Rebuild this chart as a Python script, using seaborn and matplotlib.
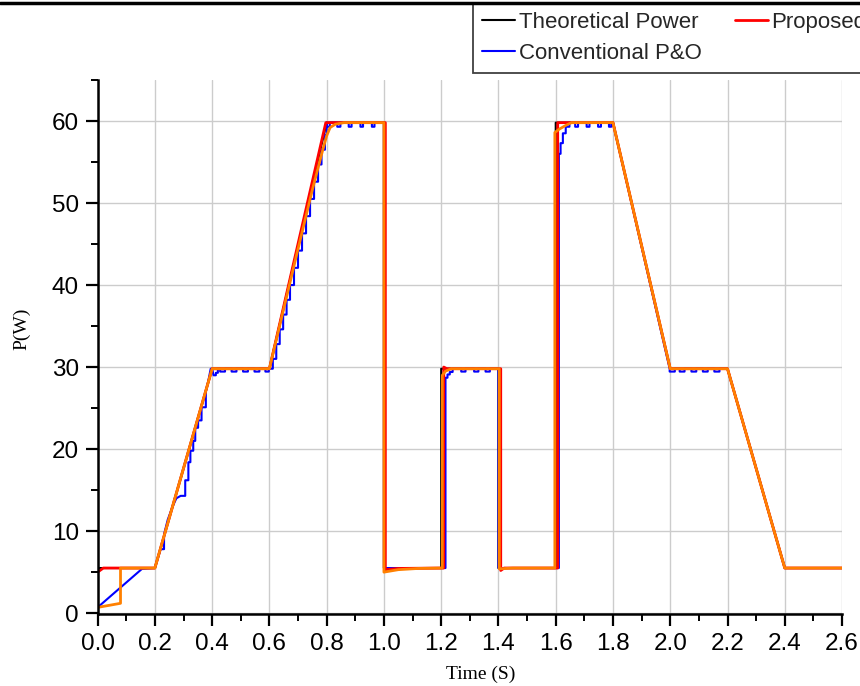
import matplotlib
matplotlib.use("Agg")
import matplotlib.pyplot as plt
import seaborn as sns
from matplotlib.ticker import MultipleLocator
from matplotlib.lines import Line2D

# ---------------- data ----------------
theo_t = [0.0, 0.2, 0.4, 0.6, 0.8, 1.0, 1.0, 1.2, 1.2, 1.4, 1.4, 1.6, 1.6, 1.8, 2.0, 2.2, 2.4, 2.6]
theo_p = [5.5, 5.5, 29.8, 29.8, 59.8, 59.8, 5.5, 5.5, 29.8, 29.8, 5.5, 5.5, 59.8, 59.8, 29.8, 29.8, 5.5, 5.5]

prop_t = [0.0, 0.02, 0.2, 0.4, 0.6, 0.797, 1.005, 1.005, 1.05, 1.2, 1.209, 1.209, 1.22, 1.408, 1.408,
          1.42, 1.607, 1.607, 1.8, 2.0, 2.2, 2.4, 2.6]
prop_p = [5.0, 5.5, 5.5, 29.8, 29.8, 59.8, 59.8, 5.3, 5.45, 5.5, 5.5, 30.0, 29.8, 29.8, 5.2,
          5.5, 5.5, 59.8, 59.8, 29.8, 29.8, 5.5, 5.5]

# conventional P&O as (time, power) points
po_pts = [
    (0.0, 0.7), (0.155, 5.4), (0.2, 5.5), (0.22, 7.8), (0.232, 7.8), (0.232, 9.6), (0.245, 11.4),
    (0.262, 13.0), (0.275, 14.0), (0.29, 14.3), (0.306, 14.3), (0.306, 16.2), (0.317, 16.2),
    (0.317, 18.4), (0.324, 18.4), (0.324, 19.8), (0.334, 19.8), (0.334, 21.0), (0.341, 21.0),
    (0.341, 22.6), (0.351, 22.6), (0.351, 23.5), (0.363, 23.5), (0.363, 25.1), (0.378, 25.1),
    (0.378, 27.0), (0.386, 28.2), (0.395, 29.8), (0.4, 29.8), (0.405, 29.0), (0.413, 29.0),
    (0.413, 29.3), (0.42, 29.3), (0.42, 29.8),
    (0.428, 29.8), (0.428, 29.45), (0.445, 29.45), (0.445, 29.8),
    (0.468, 29.8), (0.468, 29.45), (0.485, 29.45), (0.485, 29.8),
    (0.508, 29.8), (0.508, 29.45), (0.525, 29.45), (0.525, 29.8),
    (0.548, 29.8), (0.548, 29.45), (0.565, 29.45), (0.565, 29.8),
    (0.586, 29.8), (0.586, 29.45), (0.598, 29.45), (0.598, 29.8), (0.6, 29.8),
    (0.612, 29.8), (0.612, 31.0), (0.624, 31.0), (0.624, 32.8), (0.636, 32.8), (0.636, 34.6),
    (0.648, 34.6), (0.648, 36.4), (0.66, 36.4), (0.66, 38.2), (0.672, 38.2), (0.672, 40.0),
    (0.686, 40.0), (0.686, 42.1), (0.70, 42.1), (0.70, 44.2), (0.714, 44.2), (0.714, 46.3),
    (0.728, 46.3), (0.728, 48.4), (0.742, 48.4), (0.742, 50.5), (0.756, 50.5), (0.756, 52.6),
    (0.77, 52.6), (0.77, 54.7), (0.782, 54.7), (0.782, 56.5), (0.794, 56.5), (0.794, 58.3),
    (0.8, 58.3), (0.8, 59.8),
    (0.8, 59.3), (0.811, 59.3), (0.811, 59.8),
    (0.837, 59.8), (0.837, 59.3), (0.848, 59.3), (0.848, 59.8),
    (0.877, 59.8), (0.877, 59.3), (0.887, 59.3), (0.887, 59.8),
    (0.918, 59.8), (0.918, 59.3), (0.927, 59.3), (0.927, 59.8),
    (0.958, 59.8), (0.958, 59.3), (0.967, 59.3), (0.967, 59.8),
    (1.0, 59.8), (1.0, 5.5), (1.2, 5.5),
    (1.215, 5.5), (1.215, 28.7), (1.222, 28.7), (1.222, 29.1), (1.23, 29.1), (1.23, 29.4),
    (1.24, 29.4), (1.24, 29.8),
    (1.27, 29.8), (1.27, 29.45), (1.285, 29.45), (1.285, 29.8),
    (1.315, 29.8), (1.315, 29.45), (1.33, 29.45), (1.33, 29.8),
    (1.355, 29.8), (1.355, 29.45), (1.37, 29.45), (1.37, 29.8),
    (1.4, 29.8), (1.4, 5.5),
    (1.611, 5.5), (1.611, 56.0), (1.617, 56.0), (1.617, 57.3), (1.625, 57.3), (1.625, 58.5),
    (1.635, 58.5), (1.635, 59.3), (1.648, 59.3), (1.648, 59.8),
    (1.668, 59.8), (1.668, 59.3), (1.678, 59.3), (1.678, 59.8),
    (1.708, 59.8), (1.708, 59.3), (1.718, 59.3), (1.718, 59.8),
    (1.748, 59.8), (1.748, 59.3), (1.758, 59.3), (1.758, 59.8),
    (1.786, 59.8), (1.786, 59.3), (1.794, 59.3), (1.794, 59.8), (1.8, 59.8),
    (1.998, 29.8), (1.998, 29.45), (2.016, 29.45), (2.016, 29.8),
    (2.033, 29.8), (2.033, 29.45), (2.05, 29.45), (2.05, 29.8),
    (2.074, 29.8), (2.074, 29.45), (2.091, 29.45), (2.091, 29.8),
    (2.114, 29.8), (2.114, 29.45), (2.131, 29.45), (2.131, 29.8),
    (2.154, 29.8), (2.154, 29.45), (2.172, 29.45), (2.172, 29.8),
    (2.2, 29.8), (2.4, 5.5), (2.6, 5.5),
]
po_t = [p[0] for p in po_pts]
po_p = [p[1] for p in po_pts]

alt_t = [0.0, 0.08, 0.08, 0.2, 0.4, 0.6, 0.7, 0.75, 0.785, 0.8, 0.812, 0.83, 0.86, 1.0, 1.0,
         1.05, 1.12, 1.204, 1.204, 1.215, 1.235, 1.403, 1.403, 1.45, 1.597, 1.597, 1.612, 1.637,
         1.655, 1.8, 2.0, 2.2, 2.4, 2.6]
alt_p = [0.7, 1.2, 5.5, 5.5, 29.8, 29.8, 44.4, 51.6, 56.3, 58.2, 59.2, 59.6, 59.8, 59.8, 5.0,
         5.3, 5.45, 5.5, 29.0, 29.5, 29.8, 29.8, 5.4, 5.5, 5.5, 58.6, 59.0, 59.5,
         59.8, 59.8, 29.8, 29.8, 5.5, 5.5]

x_ticks = [0.0, 0.2, 0.4, 0.6, 0.8, 1.0, 1.2, 1.4, 1.6, 1.8, 2.0, 2.2, 2.4, 2.6]
y_ticks = [0, 10, 20, 30, 40, 50, 60]
labels = ["Theoretical Power", "Conventional P&O", "Proposed"]

# ---------------- figure ----------------
sns.set_theme(style="ticks")
plt.rcParams['font.family'] = ['Liberation Sans', 'DejaVu Sans']

fig = plt.figure(figsize=(8.6, 6.86), dpi=100)
ax = fig.add_axes([0.1135, 0.105, 0.8656, 0.7784])

ax.grid(True, which='major', color='#cccccc', lw=1.0)
ax.set_axisbelow(True)

sns.lineplot(x=theo_t, y=theo_p, sort=False, estimator=None, color='black', lw=1.5, ax=ax)
h_theo = ax.lines[-1]
sns.lineplot(x=po_t, y=po_p, sort=False, estimator=None, color='#0000ff', lw=1.5, ax=ax)
h_po = ax.lines[-1]
sns.lineplot(x=prop_t, y=prop_p, sort=False, estimator=None, color='#ff0000', lw=2.0, ax=ax)
h_prop = ax.lines[-1]
sns.lineplot(x=alt_t, y=alt_p, sort=False, estimator=None, color='#ff8000', lw=2.0, ax=ax)

ax.set_xlim(0, 2.6)
ax.set_ylim(-0.1, 65)
ax.set_xticks(x_ticks)
ax.set_xticklabels([f"{v:.1f}" for v in x_ticks])
ax.set_yticks(y_ticks)
ax.xaxis.set_minor_locator(MultipleLocator(0.1))
ax.yaxis.set_minor_locator(MultipleLocator(5))

for s in ['top', 'right']:
    ax.spines[s].set_visible(False)
for s in ['left', 'bottom']:
    ax.spines[s].set_color('black')
    ax.spines[s].set_linewidth(1.8)

ax.tick_params(which='major', direction='out', length=8.5, width=1.6, labelsize=17.5,
               pad=5, color='black', labelcolor='black')
ax.tick_params(which='minor', direction='out', length=5, width=1.4, color='black')

ax.set_xlabel('Time (S)', fontfamily='Liberation Serif', fontsize=14, color='black')
ax.set_ylabel('P(W)', fontfamily='Liberation Serif', fontsize=14, color='black')
ax.xaxis.set_label_coords(0.515, -0.096)
ax.yaxis.set_label_coords(-0.09, 0.534)

if ax.get_legend() is not None:
    ax.get_legend().remove()
leg = ax.legend([h_theo, h_po, h_prop], labels, ncol=2, loc='upper left',
                bbox_to_anchor=(473 / 860, 1 - 3 / 686), bbox_transform=fig.transFigure,
                borderaxespad=0, fontsize=16, frameon=True, fancybox=False,
                handlelength=1.5, handletextpad=0.15, columnspacing=1.5,
                labelspacing=0.45, borderpad=0.4)
leg.get_frame().set_edgecolor('#404040')
leg.get_frame().set_linewidth(1.3)
leg.get_frame().set_alpha(1)

fig.add_artist(Line2D([0, 1], [1 - 2.5 / 686, 1 - 2.5 / 686], transform=fig.transFigure,
                      color='black', lw=2.5))

fig.savefig('out.png', dpi=100)
